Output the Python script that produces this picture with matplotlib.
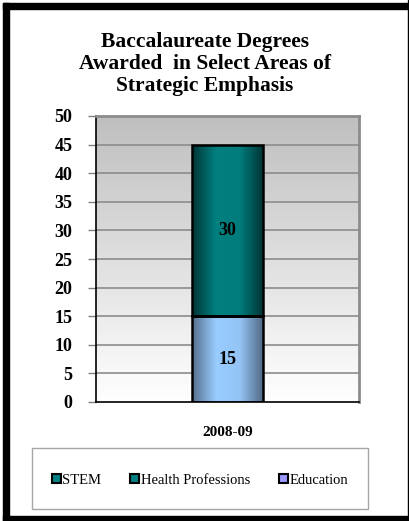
import matplotlib.pyplot as plt
import numpy as np
from matplotlib.patches import Rectangle
from matplotlib.colors import LinearSegmentedColormap

years = ['2008-09']
education = [15]
health = [0]
stem = [30]
series_names = ['STEM', 'Health Professions', 'Education']
yticks = list(range(0, 55, 5))

plt.rcParams['font.family'] = ['Liberation Serif', 'DejaVu Serif']

fig = plt.figure(figsize=(4.10, 5.21), dpi=100)
W, H = 410, 521

# outer frame
fig.patches.append(Rectangle((3 / W, 0), 6 / W, 1 - 3 / H, transform=fig.transFigure,
                             color='black', zorder=0))
fig.patches.append(Rectangle((3 / W, 1 - 9 / H), 1 - 3 / W, 6 / H, transform=fig.transFigure,
                             color='black', zorder=0))
fig.patches.append(Rectangle((3 / W, 0), 1 - 3 / W, 5 / H, transform=fig.transFigure,
                             color='black', zorder=0))
fig.patches.append(Rectangle((1 - 2 / W, 0), 2 / W, 1, transform=fig.transFigure,
                             color='black', zorder=0))

ax = fig.add_axes([96 / W, 1 - 402 / H, 263 / W, 286 / H])
x = np.arange(len(years))
ax.set_xlim(-0.5, 0.5)
ax.set_ylim(0, 50)

# background gradient
bg = LinearSegmentedColormap.from_list('bg', ['#ffffff', '#bfbfbf'])
ax.imshow(np.linspace(0, 1, 256).reshape(-1, 1), cmap=bg, aspect='auto',
          extent=(-0.5, 0.5, 0, 50), origin='lower', zorder=0)
for t in yticks[1:]:
    ax.axhline(t, color='#8c8c8c', lw=1.2, zorder=1)

width = 0.27
teal = LinearSegmentedColormap.from_list('teal', ['#003535', '#008080', '#007c7c', '#003232'])
blue = LinearSegmentedColormap.from_list('blue', ['#566e8c', '#99ccff', '#94c4f5', '#4f6682'])
grad = np.linspace(0, 1, 256).reshape(1, -1)

bottom = np.zeros(len(years))
for vals, cmap, name in [(education, blue, 'Education'), (health, teal, 'Health Professions'),
                         (stem, teal, 'STEM')]:
    bars = ax.bar(x, vals, width, bottom=bottom, facecolor='none', edgecolor='black',
                  lw=1.8, zorder=3)
    for b, v, b0 in zip(bars, vals, bottom):
        if v == 0:
            continue
        im = ax.imshow(grad, cmap=cmap, aspect='auto',
                       extent=(b.get_x(), b.get_x() + width, b0, b0 + v), zorder=2)
        im.set_clip_path(b)
        ax.text(b.get_x() + width / 2, b0 + v / 2, str(v), ha='center', va='center',
                fontsize=13, fontweight='bold', zorder=4)
    bottom = bottom + np.array(vals)

ax.set_xlim(-0.5, 0.5)
ax.set_ylim(0, 50)
ax.set_yticks(yticks)
ax.set_yticklabels([str(t) for t in yticks], fontsize=13, fontweight='bold')
ax.set_xticks(x)
ax.set_xticklabels(years, fontsize=11, fontweight='bold')
ax.tick_params(axis='x', length=0, pad=17)
ax.tick_params(axis='y', length=6, width=1, color='#808080', pad=11)
ax.spines['left'].set_color('black')
ax.spines['bottom'].set_color('black')
ax.spines['left'].set_linewidth(1.2)
ax.spines['bottom'].set_linewidth(1.2)
ax.spines['top'].set_color('#8c8c8c')
ax.spines['right'].set_color('#8c8c8c')
ax.spines['top'].set_linewidth(2)
ax.spines['right'].set_linewidth(2)

fig.text(0.5, 1 - 64 / H, 'Baccalaureate Degrees\nAwarded  in Select Areas of\nStrategic Emphasis',
         ha='center', va='center', fontsize=15.5, fontweight='bold', linespacing=1.12)

# legend
handles = [Rectangle((0, 0), 1, 1, facecolor='#008080', edgecolor='black', lw=1.5),
           Rectangle((0, 0), 1, 1, facecolor='#008080', edgecolor='black', lw=1.5),
           Rectangle((0, 0), 1, 1, facecolor='#9999ff', edgecolor='black', lw=1.5)]
leg = fig.legend(handles, series_names, loc='center', ncol=3,
                 bbox_to_anchor=(200 / W, 1 - 480 / H), fontsize=10.5, frameon=False,
                 handlelength=0.6, handleheight=0.6, handletextpad=0.1, columnspacing=2.0)
fig.patches.append(Rectangle((32 / W, 1 - 509 / H), 336 / W, 61 / H, transform=fig.transFigure,
                             facecolor='white', edgecolor='#a6a6a6', lw=1, zorder=1))

fig.savefig('out.png', dpi=100)
